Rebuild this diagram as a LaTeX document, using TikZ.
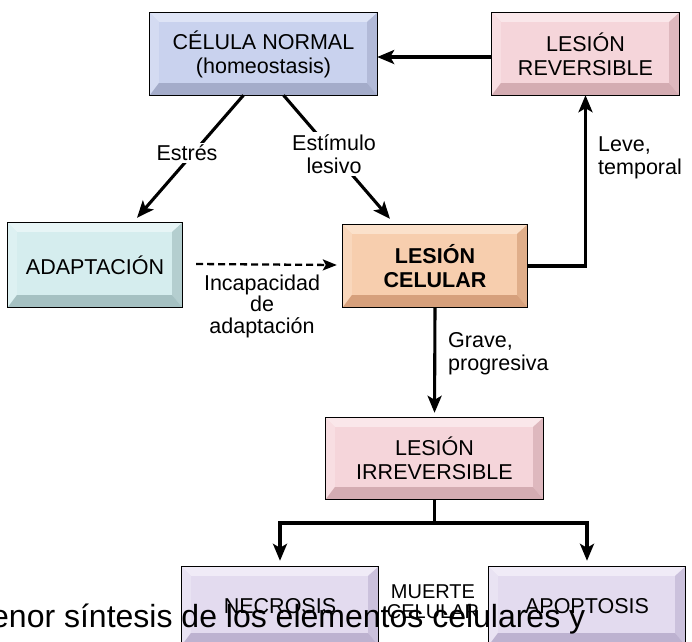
\documentclass[tikz,border=0pt]{standalone}
\usepackage{fontspec}
\setmainfont{Liberation Sans}
\usetikzlibrary{arrows.meta,calc}
\definecolor{nface}{HTML}{C9D2EE}\definecolor{ntop}{HTML}{DEE4F6}\definecolor{nleft}{HTML}{D4DBF2}\definecolor{nright}{HTML}{B2BAD8}\definecolor{nbot}{HTML}{A4ACCA}
\definecolor{rface}{HTML}{F5D5DA}\definecolor{rtop}{HTML}{FAE7EA}\definecolor{rleft}{HTML}{F8DEE2}\definecolor{rright}{HTML}{DEB8BE}\definecolor{rbot}{HTML}{D4ACB2}
\definecolor{aface}{HTML}{D5EDEE}\definecolor{atop}{HTML}{E7F5F6}\definecolor{aleft}{HTML}{DDF1F2}\definecolor{aright}{HTML}{B4CECF}\definecolor{abot}{HTML}{A5C1C2}
\definecolor{cface}{HTML}{F7CEAE}\definecolor{ctop}{HTML}{FBE1CB}\definecolor{cleft}{HTML}{F9D7BC}\definecolor{cright}{HTML}{E0AE8A}\definecolor{cbot}{HTML}{D6A07C}
\definecolor{pface}{HTML}{E3DBEF}\definecolor{ptop}{HTML}{F0EBF7}\definecolor{pleft}{HTML}{E9E3F3}\definecolor{pright}{HTML}{CBC1DC}\definecolor{pbot}{HTML}{BDB2D0}
\newcommand{\bevelbox}[5]{%
 \fill[#2] (#1.north west) -- (#1.north east) -- ([xshift=-10pt,yshift=-9pt]#1.north east) -- ([xshift=9pt,yshift=-9pt]#1.north west) -- cycle;
 \fill[#3] (#1.north west) -- ([xshift=9pt,yshift=-9pt]#1.north west) -- ([xshift=9pt,yshift=12pt]#1.south west) -- (#1.south west) -- cycle;
 \fill[#4] (#1.north east) -- ([xshift=-10pt,yshift=-9pt]#1.north east) -- ([xshift=-10pt,yshift=12pt]#1.south east) -- (#1.south east) -- cycle;
 \fill[#5] (#1.south west) -- ([xshift=9pt,yshift=12pt]#1.south west) -- ([xshift=-10pt,yshift=12pt]#1.south east) -- (#1.south east) -- cycle;
 \draw[line width=1.3pt] (#1.north west) rectangle (#1.south east);
}
\begin{document}
\begin{tikzpicture}[x=1pt,y=-1pt,
  box/.style={inner sep=0pt,align=center,font=\fontsize{21.5}{24}\selectfont},
  lbl/.style={inner sep=2pt,fill=white,align=center,font=\fontsize{21.5}{23}\selectfont},
  arr/.style={line width=3.1pt,-{Stealth[length=17pt,width=14pt,inset=4pt]}},
  ln/.style={line width=3.1pt}]
\useasboundingbox (0,0) rectangle (692,641);
\clip (0,0) rectangle (692,641);
\fill[white] (0,0) rectangle (692,641);
% boxes
\node[box,minimum width=227pt,minimum height=82pt,fill=nface] (norm) at (263.5,54) {CÉLULA NORMAL\\(homeostasis)};
\node[box,minimum width=187pt,minimum height=82pt,fill=rface] (rev) at (585.5,54) {LESIÓN\\REVERSIBLE};
\node[box,minimum width=174pt,minimum height=84pt,fill=aface] (adap) at (95,265) {ADAPTACIÓN};
\node[box,minimum width=184pt,minimum height=82pt,fill=cface,font=\fontsize{21.5}{24}\selectfont\bfseries] (cel) at (435,266) {LESIÓN\\CELULAR};
\node[box,minimum width=217pt,minimum height=81pt,fill=rface] (irr) at (434.5,458.5) {LESIÓN\\IRREVERSIBLE};
\node[box,minimum width=196pt,minimum height=78pt,fill=pface] (nec) at (280,606) {NECROSIS};
\node[box,minimum width=196pt,minimum height=78pt,fill=pface] (apo) at (587,606) {APOPTOSIS};
\bevelbox{norm}{ntop}{nleft}{nright}{nbot}
\bevelbox{rev}{rtop}{rleft}{rright}{rbot}
\bevelbox{adap}{atop}{aleft}{aright}{abot}
\bevelbox{cel}{ctop}{cleft}{cright}{cbot}
\bevelbox{irr}{rtop}{rleft}{rright}{rbot}
\bevelbox{nec}{ptop}{pleft}{pright}{pbot}
\bevelbox{apo}{ptop}{pleft}{pright}{pbot}
% connectors
\draw[arr] ([yshift=-3pt]rev.west) -- ([yshift=-3pt]norm.east);
\draw[arr] (cel.east) -| (rev.south);
\draw[arr] ([xshift=-20pt]norm.south) -- ([xshift=42pt,yshift=5pt]adap.north);
\draw[arr] ([xshift=20pt]norm.south) -- ([xshift=-45pt,yshift=6pt]cel.north);
\draw[line width=2.3pt,dash pattern=on 7pt off 4pt,-{Stealth[length=14pt,width=11pt,inset=3pt]}] ([xshift=14pt,yshift=1pt]adap.east) -- ([xshift=-6pt,yshift=1pt]cel.west);
\draw[arr,shorten >=5pt] (cel.south) -- (irr.north);
\coordinate (split) at (434.5,523);
\draw[ln] (irr.south) -- (split);
\draw[arr,shorten >=6pt] (split) -| (nec.north);
\draw[arr,shorten >=6pt] (split) -| (apo.north);
% labels
\node[lbl] (lestres) at (187,153) {Estrés};
\node[lbl] (lestim) at (334,154) {Estímulo\\lesivo};
\node[lbl,anchor=west,align=left] (lleve) at (596,158) {Leve,\\temporal};
\node[lbl,anchor=west,align=left] (lgrave) at (446,354) {Grave,\\progresiva};
\node[lbl,fill=none,font=\fontsize{21.5}{21.5}\selectfont] (lincap) at (262,306) {Incapacidad\\de\\adaptación};
\node[lbl,fill=none,font=\fontsize{20}{20}\selectfont] (lmuerte) at (433,602) {MUERTE\\CELULAR};
% overlay text
\node[inner sep=0pt,anchor=base west,font=\fontsize{32}{33}\selectfont] (overlay) at (-9,627) {enor síntesis de los elementos celulares y};
\end{tikzpicture}
\end{document}
